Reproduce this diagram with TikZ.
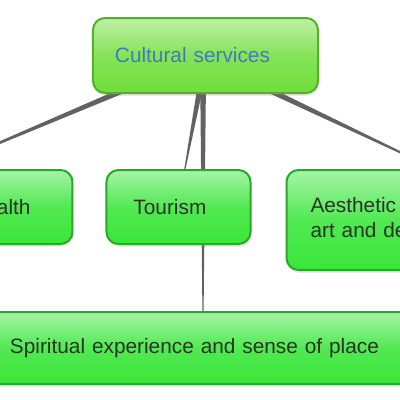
\documentclass[tikz,border=0pt]{standalone}
\usepackage{fontspec}
\setmainfont{Liberation Sans}
\usetikzlibrary{positioning,calc,backgrounds,shadows}
\definecolor{leadfill}{RGB}{112,222,58}
\definecolor{leadline}{RGB}{84,176,40}
\definecolor{leadtext}{RGB}{66,122,190}
\definecolor{servfill}{RGB}{58,230,58}
\definecolor{servline}{RGB}{42,168,42}
\definecolor{servtext}{RGB}{38,52,38}
\definecolor{linkgray}{RGB}{98,98,98}

% tapered link: wide at #1, thin at #2
\newcommand{\taperline}[2]{%
  \fill[linkgray] ($(#1)!0.7mm!90:(#2)$) -- ($(#1)!0.7mm!-90:(#2)$)
    -- ($(#2)!0.15mm!90:(#1)$) -- ($(#2)!0.15mm!-90:(#1)$) -- cycle;}

\begin{document}
\begin{tikzpicture}[
  x=0.25mm,y=-0.25mm,
  font=\fontsize{14.8}{17.8}\selectfont,
  mainbox/.style={draw=leadline,line width=0.5mm,rounded corners=3mm,
    top color=leadfill!45!white,bottom color=leadfill,middle color=leadfill!85!white,
    text=leadtext,inner ysep=0pt,
    drop shadow={shadow xshift=0.2mm,shadow yshift=-0.7mm,opacity=0.18}},
  servbox/.style={draw=servline,line width=0.5mm,rounded corners=3mm,
    top color=servfill!45!white,bottom color=servfill,middle color=servfill!88!white,
    text=servtext,inner ysep=0pt,
    drop shadow={shadow xshift=0.2mm,shadow yshift=-0.7mm,opacity=0.18}},
]
\useasboundingbox (0,0) rectangle (400,400);
\clip (0,0) rectangle (400,400);

\node[mainbox,minimum width=56.25mm,minimum height=18.75mm,
  text width=45.25mm,inner xsep=5.5mm,align=left] (lead) at (205.5,55.5) {Cultural services};

\node[servbox,below=18.75mm of lead,xshift=-6.75mm,minimum width=36mm,minimum height=18.5mm,
  text width=22.5mm,inner xsep=6.75mm,align=left] (tourism) {Tourism};
\node[servbox,left=8mm of tourism,minimum width=67.5mm,minimum height=18.5mm,
  text width=46.5mm,inner xsep=10.5mm,align=right] (health) {Health};
\node[servbox,anchor=north west,minimum width=74.5mm,minimum height=25mm,
  text width=62.5mm,inner xsep=6mm,align=left] (aesthetic)
  at ($(tourism.north east)+(8.5mm,0)$) {Aesthetic appreciation\\art and design};
\node[servbox,below=16.5mm of tourism,xshift=6.125mm,minimum width=115mm,minimum height=18mm,
  text width=96.5mm,inner xsep=9.25mm,align=left] (spirit) {Spiritual experience and sense of place};

% link start points, tucked under the lead box
\coordinate (lead-h) at ($(lead.south)+(-19.7mm,1.25mm)$);
\coordinate (lead-t) at ($(lead.south)+(-1.4mm,1.25mm)$);
\coordinate (lead-s) at ($(lead.south)+(-0.6mm,1.25mm)$);
\coordinate (lead-a) at ($(lead.south)+(15.3mm,1.25mm)$);
\coordinate (tourism-in) at ($(tourism.north)+(1.6mm,0)$);

\begin{scope}[on background layer]
\taperline{lead-h}{health.north}
\taperline{lead-t}{tourism-in}
\taperline{lead-s}{spirit.north}
\taperline{lead-a}{aesthetic.north}
\end{scope}
\end{tikzpicture}
\end{document}
